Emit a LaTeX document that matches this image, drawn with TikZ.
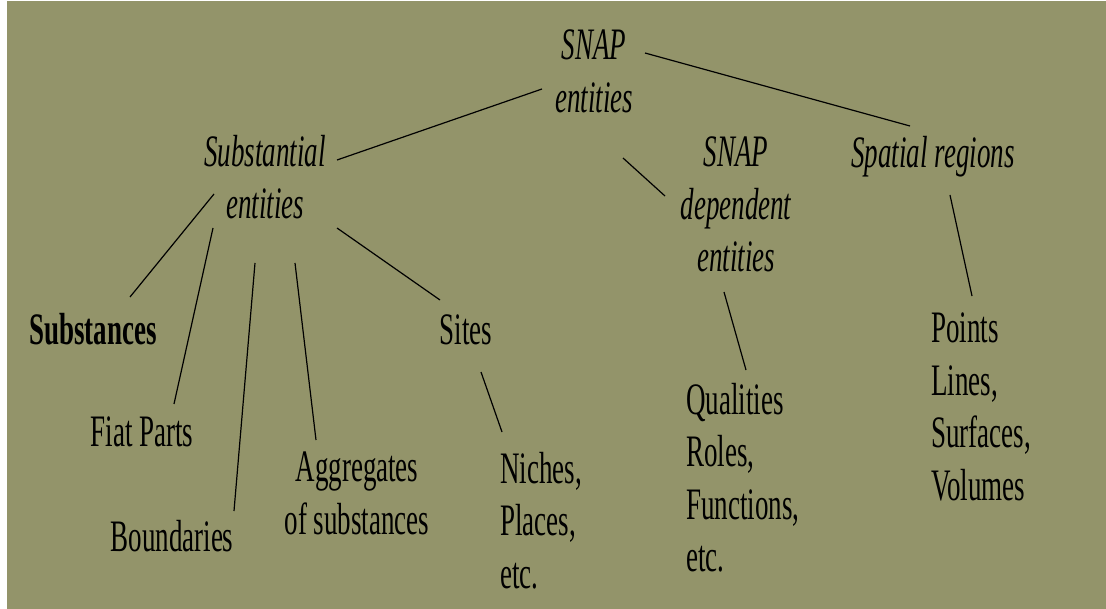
\documentclass[tikz,border=0pt]{standalone}
\usepackage{fontspec}
\setmainfont{Liberation Serif}[FakeStretch=0.6]
\definecolor{bgolive}{RGB}{147,148,106}
\begin{document}
\begin{tikzpicture}[x=1pt,y=-1pt,
  lbl/.style={inner sep=0pt, anchor=north, align=center, text=black,
    font=\fontsize{45}{52.5}\selectfont},
  ilbl/.style={lbl, font=\fontsize{45}{52.5}\selectfont\itshape},
  llbl/.style={lbl, anchor=north west, align=left},
  conn/.style={draw=black, line width=1.2pt}]
\useasboundingbox (0,0) rectangle (1106,609);
\fill[white] (0,0) rectangle (1106,609);
\fill[bgolive] (7,1) rectangle (1106,609);
% nodes
\node[ilbl] (snap) at (594,30) {SNAP\\entities};
\node[ilbl] (subst) at (265,135) {Substantial\\entities};
\node[ilbl] (snapdep) at (736,137) {SNAP\\dependent\\entities};
\node[ilbl] (spatial) at (933,136) {Spatial regions};
\node[lbl, font=\fontsize{45}{52.5}\selectfont\bfseries] (substances) at (93,313) {Substances};
\node[lbl] (sites) at (466,315) {Sites};
\node[lbl] (fiat) at (142,417) {Fiat Parts};
\node[lbl] (boundaries) at (172,520) {Boundaries};
\node[lbl] (aggregates) at (357,452) {Aggregates\\of substances};
\node[llbl] (niches) at (500,452) {Niches,\\Places,\\etc.};
\node[llbl] (qualities) at (686,383) {Qualities\\Roles,\\Functions,\\etc.};
\node[llbl] (points) at (931,313) {Points\\Lines,\\Surfaces,\\Volumes};
% connectors
\draw[conn] ([shift={(-52,59)}]snap.north) -- ([shift={(72,25)}]subst.north);
\draw[conn] ([shift={(51,23)}]snap.north) -- ([shift={(-23,-10)}]spatial.north);
\draw[conn] ([shift={(29,128)}]snap.north) -- ([shift={(-71,59)}]snapdep.north);
\draw[conn] ([shift={(-51,59)}]subst.north) -- ([shift={(37,-16)}]substances.north);
\draw[conn] ([shift={(-52,93)}]subst.north) -- ([shift={(32,-13)}]fiat.north);
\draw[conn] ([shift={(-10,128)}]subst.north) -- ([shift={(62,-9)}]boundaries.north);
\draw[conn] ([shift={(30,128)}]subst.north) -- ([shift={(-41,-12)}]aggregates.north);
\draw[conn] ([shift={(72,93)}]subst.north) -- ([shift={(-26,-15)}]sites.north);
\draw[conn] ([shift={(15,57)}]sites.north) -- ([shift={(2,-20)}]niches.north west);
\draw[conn] ([shift={(-12,155)}]snapdep.north) -- ([shift={(60,-13)}]qualities.north west);
\draw[conn] ([shift={(17,59)}]spatial.north) -- ([shift={(41,-17)}]points.north west);
\end{tikzpicture}
\end{document}
